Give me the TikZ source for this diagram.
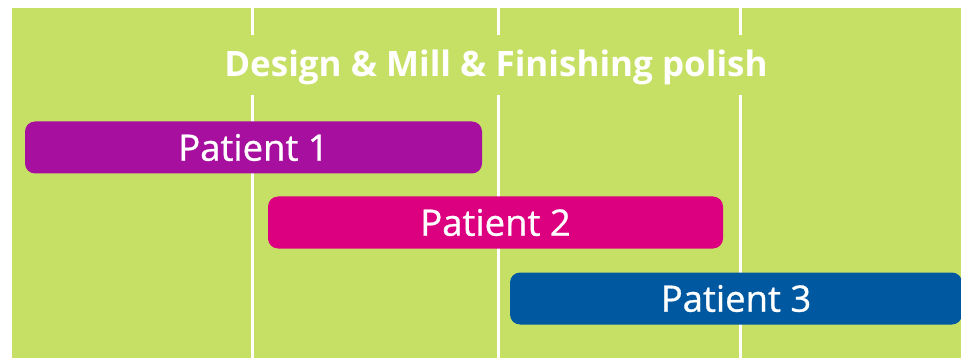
\documentclass[tikz,border=0pt]{standalone}
\usepackage{fontspec}
\setmainfont{Open Sans}
\newfontfamily\barfont[FakeBold=0.8]{Open Sans}
\definecolor{bggreen}{HTML}{C6E066}
\definecolor{pviolet}{HTML}{A7109E}
\definecolor{pmagenta}{HTML}{DC0080}
\definecolor{pblue}{HTML}{0059A0}
\tikzset{
  bar/.style={rounded corners=10pt, minimum height=52pt, inner sep=0pt, text=white,
    font=\barfont\fontsize{36.5}{40}\selectfont},
  divider/.style={draw=white, line width=3pt},
}
\begin{document}
\begin{tikzpicture}[x=1pt,y=-1pt]
\useasboundingbox (0,0) rectangle (961,358);
\fill[bggreen] (12,8) rectangle (961,358);
\coordinate (t1) at (252,8); \coordinate (b1) at (252,358);
\coordinate (t2) at (498,8); \coordinate (b2) at (498,358);
\coordinate (t3) at (740,8); \coordinate (b3) at (740,358);
\draw[divider] (t1) -- (b1);
\draw[divider] (t2) -- (b2);
\draw[divider] (t3) -- (b3);
\node[fill=bggreen, text=white, inner xsep=12pt, inner ysep=0pt, minimum height=60pt,
  text height=24pt, text depth=0pt, font=\bfseries\fontsize{35}{40}\selectfont]
  (title) at (496,65) {Design \& Mill \& Finishing polish};
\node[bar, fill=pviolet, minimum width=457pt] (p1) at (253.5,147.5) {Patient 1};
\node[bar, fill=pmagenta, minimum width=455pt] (p2) at (495.5,222.5) {Patient 2};
\node[bar, fill=pblue, minimum width=452pt] (p3) at (736,298.5) {Patient 3};
\end{tikzpicture}
\end{document}
